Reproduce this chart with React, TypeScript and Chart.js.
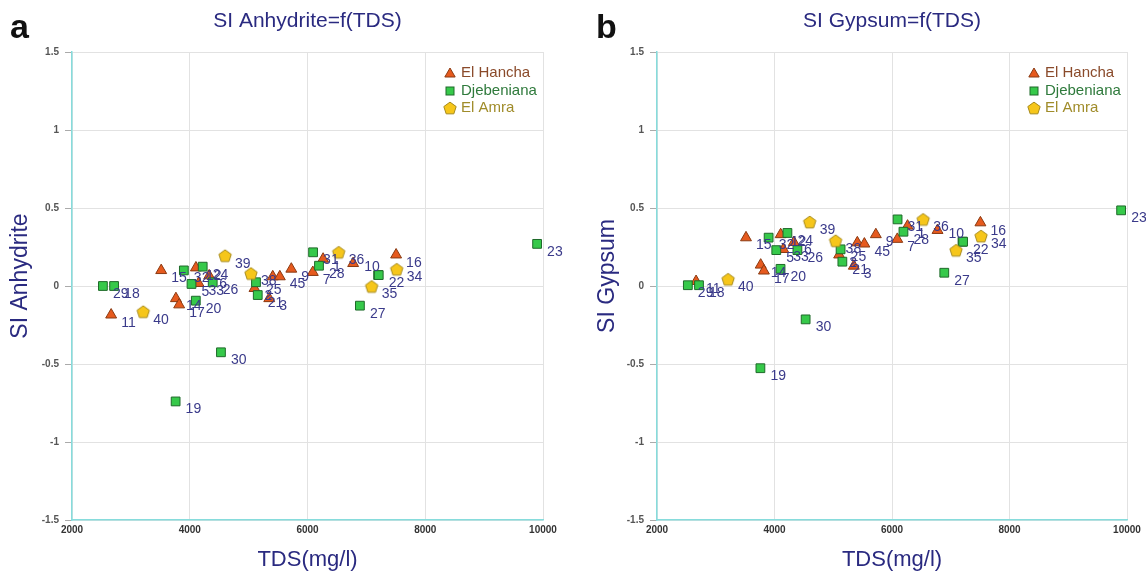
import React, { useEffect, useRef } from 'react';
import { Chart, registerables } from 'chart.js';

Chart.register(...registerables);

// ---------- data ----------
const X_TICKS = [2000, 4000, 6000, 8000, 10000];
const Y_TICKS = [-1.5, -1, -0.5, 0, 0.5, 1, 1.5];

const HANCHA_LABELS = ['11', '15', '14', '17', '12', '33', '6', '2', '3', '', '45', '9', '7', '1', '', '16'];
const HANCHA_TDS = [2665, 3515, 3765, 3820, 4105, 4150, 4330, 5100, 5350, 5410, 5530, 5725, 6090, 6265, 6775, 7505];
const HANCHA_SI_ANHYDRITE = [-0.185, 0.1, -0.08, -0.12, 0.117, 0.017, 0.066, -0.015, -0.08, 0.06, 0.06, 0.109, 0.088, 0.173, 0.145, 0.2];
const HANCHA_SI_GYPSUM = [0.03, 0.31, 0.135, 0.097, 0.33, 0.235, 0.28, 0.2, 0.128, 0.278, 0.27, 0.33, 0.3, 0.385, 0.357, 0.406];

const DJEB_LABELS = ['29', '18', '19', '32', '5', '20', '24', '26', '30', '25', '21', '31', '28', '27', '10', '22', '23'];
const DJEB_TDS = [2525, 2715, 3760, 3900, 4030, 4103, 4220, 4390, 4530, 5125, 5155, 6095, 6195, 6890, 7200, 7210, 9900];
const DJEB_SI_ANHYDRITE = [0.0, 0.0, -0.74, 0.1, 0.013, -0.094, 0.124, 0.024, -0.425, 0.024, -0.058, 0.216, 0.13, -0.126, 0.07, 0.07, 0.27];
const DJEB_SI_GYPSUM = [0.005, 0.005, -0.527, 0.31, 0.23, 0.11, 0.34, 0.23, -0.214, 0.235, 0.156, 0.427, 0.348, 0.085, 0.284, 0.284, 0.485];

const AMRA_LABELS = ['40', '39', '38', '36', '35', '34'];
const AMRA_TDS = [3210, 4600, 5040, 6530, 7090, 7515];
const AMRA_SI_ANHYDRITE = [-0.165, 0.194, 0.08, 0.216, -0.003, 0.107];
const AMRA_SI_GYPSUM = [0.043, 0.41, 0.29, 0.427, 0.229, 0.32];

const SERIES_NAMES = ['El Hancha', 'Djebeniana', 'El Amra'];

// ---------- styles ----------
const FONT = '"Liberation Sans", Arial, sans-serif';
const NAVY = '#2a2a80';
const LABEL_COLOR = '#3a3a8a';
const TRI_FILL = '#e65a1e';
const TRI_EDGE = '#8a3a12';
const SQ_FILL = '#36c94a';
const SQ_EDGE = '#1f6a2a';
const PENT_FILL = '#f6c61a';
const PENT_EDGE = '#a68a1c';
const LEGEND_TEXT = ['#8a4a2a', '#2f7a3c', '#a08c2a'];
const LABEL_NUDGE: Record<string, [number, number]> = { '10': [-14, -8] };

function makePentagon(): HTMLCanvasElement {
  const size = 16;
  const r = 6.5;
  const c = document.createElement('canvas');
  c.width = size;
  c.height = size;
  const ctx = c.getContext('2d')!;
  ctx.beginPath();
  for (let i = 0; i < 5; i++) {
    const a = -Math.PI / 2 + (i * 2 * Math.PI) / 5;
    const px = size / 2 + r * Math.cos(a);
    const py = size / 2 + 0.6 + r * Math.sin(a);
    if (i === 0) ctx.moveTo(px, py);
    else ctx.lineTo(px, py);
  }
  ctx.closePath();
  ctx.fillStyle = PENT_FILL;
  ctx.fill();
  ctx.strokeStyle = PENT_EDGE;
  ctx.lineWidth = 1;
  ctx.stroke();
  return c;
}

function drawTriangle(ctx: CanvasRenderingContext2D, x: number, y: number, r: number) {
  ctx.beginPath();
  for (let i = 0; i < 3; i++) {
    const a = -Math.PI / 2 + (i * 2 * Math.PI) / 3;
    const px = x + r * Math.cos(a);
    const py = y + r * Math.sin(a);
    if (i === 0) ctx.moveTo(px, py);
    else ctx.lineTo(px, py);
  }
  ctx.closePath();
  ctx.fillStyle = TRI_FILL;
  ctx.fill();
  ctx.strokeStyle = TRI_EDGE;
  ctx.lineWidth = 1;
  ctx.stroke();
}

function drawSquare(ctx: CanvasRenderingContext2D, x: number, y: number, s: number) {
  ctx.fillStyle = SQ_FILL;
  ctx.fillRect(x - s / 2, y - s / 2, s, s);
  ctx.strokeStyle = SQ_EDGE;
  ctx.lineWidth = 1;
  ctx.strokeRect(x - s / 2, y - s / 2, s, s);
}

type Panel = {
  letter: string;
  letterX: number;
  title: string;
  yTitle: string;
  yTitleX: number;
  yAxisWidth: number;
  padRight: number;
  hancha: number[];
  djeb: number[];
  amra: number[];
};

const PANELS: Panel[] = [
  {
    letter: 'a',
    letterX: 10,
    title: 'SI Anhydrite=f(TDS)',
    yTitle: 'SI Anhydrite',
    yTitleX: 21,
    yAxisWidth: 72,
    padRight: 30,
    hancha: HANCHA_SI_ANHYDRITE,
    djeb: DJEB_SI_ANHYDRITE,
    amra: AMRA_SI_ANHYDRITE,
  },
  {
    letter: 'b',
    letterX: 23,
    title: 'SI Gypsum=f(TDS)',
    yTitle: 'SI Gypsum',
    yTitleX: 35,
    yAxisWidth: 84,
    padRight: 19,
    hancha: HANCHA_SI_GYPSUM,
    djeb: DJEB_SI_GYPSUM,
    amra: AMRA_SI_GYPSUM,
  },
];

function buildChart(canvas: HTMLCanvasElement, panel: Panel, pentagon: HTMLCanvasElement) {
  const toPts = (xs: number[], ys: number[]) => xs.map((x, i) => ({ x, y: ys[i] }));

  const textPlugin = {
    id: 'panelText',
    afterDatasetsDraw(chart: any) {
      const ctx = chart.ctx as CanvasRenderingContext2D;
      ctx.save();
      ctx.font = `14px ${FONT}`;
      ctx.fillStyle = LABEL_COLOR;
      ctx.textAlign = 'left';
      ctx.textBaseline = 'middle';
      chart.data.datasets.forEach((ds: any, di: number) => {
        const meta = chart.getDatasetMeta(di);
        meta.data.forEach((el: any, i: number) => {
          const lab = ds.pointLabels[i];
          if (!lab) return;
          const nudge = LABEL_NUDGE[lab] || [10, 8];
          ctx.fillText(lab, el.x + nudge[0], el.y + nudge[1]);
        });
      });
      ctx.restore();
    },
    afterDraw(chart: any) {
      const ctx = chart.ctx as CanvasRenderingContext2D;
      const ca = chart.chartArea;
      const cx = (ca.left + ca.right) / 2;
      ctx.save();
      // panel letter
      ctx.font = `bold 34px ${FONT}`;
      ctx.fillStyle = '#111';
      ctx.textAlign = 'left';
      ctx.textBaseline = 'alphabetic';
      ctx.fillText(panel.letter, panel.letterX, 38);
      // title
      ctx.font = `21px ${FONT}`;
      ctx.fillStyle = NAVY;
      ctx.textAlign = 'center';
      ctx.textBaseline = 'middle';
      ctx.fillText(panel.title, cx, 21);
      // x title
      ctx.font = `22px ${FONT}`;
      ctx.fillText('TDS(mg/l)', cx, 560);
      // y title
      ctx.save();
      ctx.translate(panel.yTitleX, 276);
      ctx.rotate(-Math.PI / 2);
      ctx.font = `23px ${FONT}`;
      ctx.fillText(panel.yTitle, 0, 0);
      ctx.restore();
      // legend
      const mx = ca.right - 93;
      const tx = ca.right - 82;
      const rows = [73, 91, 108];
      drawTriangle(ctx, mx, rows[0] + 1, 6);
      drawSquare(ctx, mx, rows[1], 8);
      ctx.drawImage(pentagon, mx - pentagon.width / 2, rows[2] - pentagon.height / 2);
      ctx.font = `15px ${FONT}`;
      ctx.textAlign = 'left';
      SERIES_NAMES.forEach((name, i) => {
        ctx.fillStyle = LEGEND_TEXT[i];
        ctx.fillText(name, tx, rows[i]);
      });
      ctx.restore();
    },
  };

  return new Chart(canvas, {
    type: 'scatter',
    data: {
      datasets: [
        {
          label: SERIES_NAMES[0],
          data: toPts(HANCHA_TDS, panel.hancha),
          pointStyle: 'triangle',
          pointRadius: 6.3,
          pointHoverRadius: 6.3,
          backgroundColor: TRI_FILL,
          borderColor: TRI_EDGE,
          borderWidth: 1,
          order: 2,
          pointLabels: HANCHA_LABELS,
        } as any,
        {
          label: SERIES_NAMES[1],
          data: toPts(DJEB_TDS, panel.djeb),
          pointStyle: 'rect',
          pointRadius: 6.2,
          pointHoverRadius: 6.2,
          backgroundColor: SQ_FILL,
          borderColor: SQ_EDGE,
          borderWidth: 1,
          order: 1,
          pointLabels: DJEB_LABELS,
        } as any,
        {
          label: SERIES_NAMES[2],
          data: toPts(AMRA_TDS, panel.amra),
          pointStyle: pentagon,
          pointRadius: 7,
          pointHoverRadius: 7,
          backgroundColor: PENT_FILL,
          borderColor: PENT_EDGE,
          borderWidth: 1,
          order: 0,
          pointLabels: AMRA_LABELS,
        } as any,
      ],
    },
    options: {
      animation: false,
      responsive: false,
      maintainAspectRatio: false,
      devicePixelRatio: 1,
      events: [],
      layout: { padding: { top: 52, right: panel.padRight, left: 0, bottom: 0 } },
      plugins: {
        legend: { display: false },
        tooltip: { enabled: false },
        title: { display: false },
      },
      scales: {
        x: {
          type: 'linear',
          min: X_TICKS[0],
          max: X_TICKS[X_TICKS.length - 1],
          afterBuildTicks: (s: any) => {
            s.ticks = X_TICKS.map((v) => ({ value: v }));
          },
          afterFit: (s: any) => {
            s.height = 57;
          },
          ticks: {
            autoSkip: false,
            maxRotation: 0,
            padding: 4,
            color: '#333',
            font: { family: FONT, size: 10, weight: 'bold' },
            callback: (v: any) => String(v),
          },
          grid: { color: '#e2e2e2', lineWidth: 1, drawTicks: false },
          border: { color: '#86dcdc', width: 1.5 },
        },
        y: {
          type: 'linear',
          min: Y_TICKS[0],
          max: Y_TICKS[Y_TICKS.length - 1],
          afterBuildTicks: (s: any) => {
            s.ticks = Y_TICKS.map((v) => ({ value: v }));
          },
          afterFit: (s: any) => {
            s.width = panel.yAxisWidth;
          },
          ticks: {
            autoSkip: false,
            padding: 6,
            color: '#555',
            font: { family: FONT, size: 10, weight: 'bold' },
            callback: (v: any) => String(v),
          },
          grid: { color: '#e2e2e2', lineWidth: 1, tickLength: 7, tickColor: '#aaa' },
          border: { color: '#86dcdc', width: 1.5 },
        },
      },
    } as any,
    plugins: [textPlugin],
  });
}

export default function App() {
  const leftRef = useRef<HTMLCanvasElement>(null);
  const rightRef = useRef<HTMLCanvasElement>(null);

  useEffect(() => {
    const pentagon = makePentagon();
    const charts: Chart[] = [];
    if (leftRef.current) charts.push(buildChart(leftRef.current, PANELS[0], pentagon));
    if (rightRef.current) charts.push(buildChart(rightRef.current, PANELS[1], pentagon));
    return () => charts.forEach((c) => c.destroy());
  }, []);

  return (
    <div style={{ position: 'fixed', left: 0, top: 0, width: 1146, height: 577, background: '#fff' }}>
      <canvas ref={leftRef} width={573} height={577} style={{ position: 'absolute', left: 0, top: 0, width: 573, height: 577 }} />
      <canvas ref={rightRef} width={573} height={577} style={{ position: 'absolute', left: 573, top: 0, width: 573, height: 577 }} />
    </div>
  );
}
